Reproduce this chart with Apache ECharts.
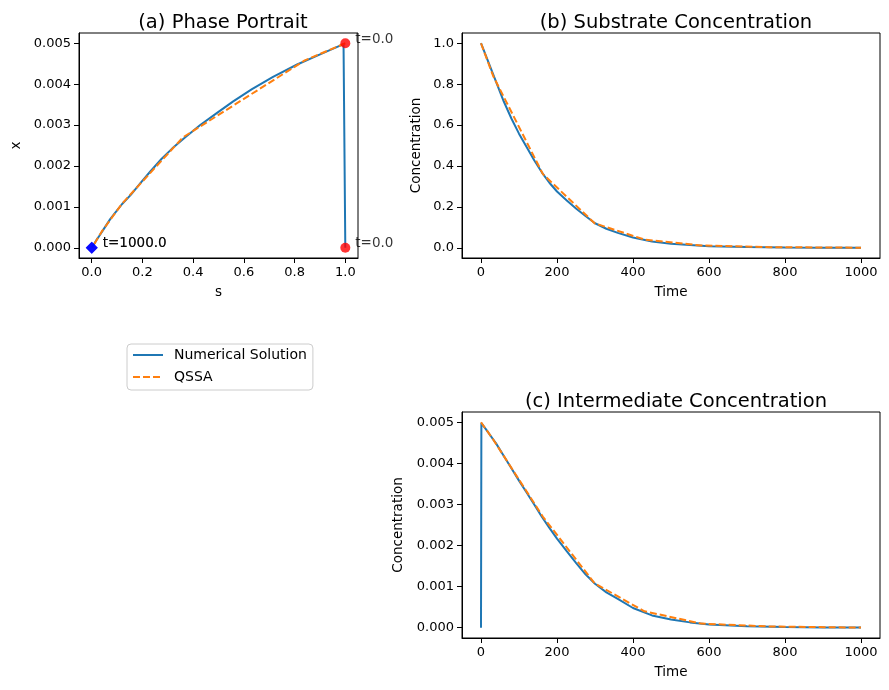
<!DOCTYPE html>
<html>
<head>
    <meta charset="utf-8">
    <title>Enzyme kinetics</title>
    <script src="https://cdn.jsdelivr.net/npm/echarts@6/dist/echarts.min.js"></script>
</head>
<body style="margin:0;background:#fff;">
    <div id="main" style="width: 889px;height:690px;"></div>
    <script type="text/javascript">
        // numerical solution
        var time = [0, 1, 20, 40, 60, 80, 100, 120, 140, 160, 180, 200, 225, 250, 275, 300, 330, 360, 400, 450, 500, 550, 600, 700, 800, 900, 1000];
        var sNum = [1.0, 0.993, 0.905, 0.81, 0.715, 0.632, 0.558, 0.493, 0.428, 0.369, 0.318, 0.275, 0.232, 0.192, 0.155, 0.12, 0.093, 0.073, 0.05, 0.031, 0.02, 0.013, 0.008, 0.0035, 0.0015, 0.0007, 0.0003];
        var xNum = [0, 0.00498, 0.00474, 0.00448, 0.00418, 0.00388, 0.00358, 0.00329, 0.003, 0.0027, 0.00243, 0.00217, 0.00187, 0.00158, 0.0013, 0.00107, 0.00086, 0.0007, 0.00048, 0.0003, 0.0002, 0.00013, 0.00008, 0.000035, 0.000015, 0.000007, 0.000003];

        // QSSA (coarse output steps)
        var timeQ = [0, 32, 163, 299, 430, 580, 760, 1000];
        var sQ = [1.0, 0.84, 0.36, 0.12, 0.04, 0.011, 0.003, 0.0003];
        var xQ = [0.005, 0.00458, 0.0027, 0.00108, 0.0004, 0.0001, 0.00003, 0.000003];

        var sTicks = [0, 0.2, 0.4, 0.6, 0.8, 1.0];
        var xTicks = [0, 0.001, 0.002, 0.003, 0.004, 0.005];
        var timeTicks = [0, 200, 400, 600, 800, 1000];
        var concTicks = [0, 0.2, 0.4, 0.6, 0.8, 1.0];

        var FONT = 'DejaVu Sans';
        var BLUE = '#1f77b4', ORANGE = '#ff7f0e';

        function pairs(a, b) {
            return a.map(function (v, i) { return [v, b[i]]; });
        }

        function axis(grid, pos, min, max, ticks, digits, name, gap) {
            return {
                type: 'value', gridIndex: grid, position: pos, min: min, max: max,
                name: name, nameLocation: 'middle', nameGap: gap,
                nameTextStyle: { color: '#000', fontFamily: FONT, fontSize: 13.5 },
                axisLine: { show: true, onZero: false, lineStyle: { color: '#000', width: 1 } },
                axisTick: { show: true, length: 5, customValues: ticks, lineStyle: { color: '#000' } },
                axisLabel: {
                    color: '#000', fontFamily: FONT, fontSize: 13, margin: 8,
                    customValues: ticks,
                    formatter: function (v) { return v.toFixed(digits); }
                },
                splitLine: { show: false }
            };
        }

        function line(name, grid, data, dashed) {
            var c = dashed ? ORANGE : BLUE;
            return {
                name: name, type: 'line', xAxisIndex: grid, yAxisIndex: grid,
                data: data, symbol: 'none', animation: false, z: dashed ? 3 : 2,
                lineStyle: { color: c, width: 2, type: dashed ? [7, 3] : 'solid' },
                itemStyle: { color: c, opacity: 0 }
            };
        }

        function mark(point, label, color, symbol, size) {
            return {
                type: 'scatter', xAxisIndex: 0, yAxisIndex: 0, z: 5, animation: false,
                symbol: symbol, symbolSize: size, itemStyle: { color: color },
                label: {
                    show: true, position: 'right', distance: 5, offset: [0, -4],
                    formatter: label, color: '#000', fontFamily: FONT, fontSize: 13.5
                },
                data: [point]
            };
        }

        var last = time.length - 1, lastQ = timeQ.length - 1;
        var myChart = echarts.init(document.getElementById('main'));

        var option = {
            backgroundColor: '#fff',
            animation: false,
            title: [
                { text: '(a) Phase Portrait', left: 218, top: 8, textAlign: 'center' },
                { text: '(b) Substrate Concentration', left: 671, top: 8, textAlign: 'center' },
                { text: '(c) Intermediate Concentration', left: 671, top: 387, textAlign: 'center' }
            ].map(function (t) {
                t.textStyle = { color: '#000', fontFamily: FONT, fontSize: 19.5, fontWeight: 'normal' };
                return t;
            }),
            legend: {
                orient: 'vertical', left: 127, top: 344,
                data: ['Numerical Solution', 'QSSA'],
                itemWidth: 30, itemHeight: 14, itemGap: 8,
                padding: [4, 6, 6, 5],
                borderColor: '#cccccc', borderWidth: 1, borderRadius: 4,
                itemStyle: { opacity: 0 },
                textStyle: { color: '#000', fontFamily: FONT, fontSize: 14, padding: [0, 0, 0, 6] }
            },
            grid: [
                { left: 79, top: 33, width: 279, height: 225, show: true, borderColor: '#000', borderWidth: 1 },
                { left: 462, top: 33, width: 418, height: 225, show: true, borderColor: '#000', borderWidth: 1 },
                { left: 462, top: 412, width: 418, height: 226, show: true, borderColor: '#000', borderWidth: 1 }
            ],
            xAxis: [
                axis(0, 'bottom', -0.05, 1.05, sTicks, 1, 's', 27),
                axis(1, 'bottom', -50, 1050, timeTicks, 0, 'Time', 27),
                axis(2, 'bottom', -50, 1050, timeTicks, 0, 'Time', 27)
            ],
            yAxis: [
                axis(0, 'left', -0.00025, 0.00525, xTicks, 3, 'x', 56),
                axis(1, 'left', -0.05, 1.05, concTicks, 1, 'Concentration', 39),
                axis(2, 'left', -0.00025, 0.00525, xTicks, 3, 'Concentration', 57)
            ],
            series: [
                line('Numerical Solution', 0, pairs(sNum, xNum), false),
                line('QSSA', 0, pairs(sQ, xQ), true),
                line('Numerical Solution', 1, pairs(time, sNum), false),
                line('QSSA', 1, pairs(timeQ, sQ), true),
                line('Numerical Solution', 2, pairs(time, xNum), false),
                line('QSSA', 2, pairs(timeQ, xQ), true),
                mark([sNum[0], xNum[0]], 't=' + time[0].toFixed(1), '#ff0000', 'circle', 10),
                mark([sQ[0], xQ[0]], 't=' + timeQ[0].toFixed(1), '#ff0000', 'circle', 10),
                mark([sNum[last], xNum[last]], 't=' + time[last].toFixed(1), '#0000ff', 'diamond', 12),
                mark([sQ[lastQ], xQ[lastQ]], 't=' + timeQ[lastQ].toFixed(1), '#0000ff', 'diamond', 12)
            ]
        };

        myChart.setOption(option);
    </script>
</body>
</html>
